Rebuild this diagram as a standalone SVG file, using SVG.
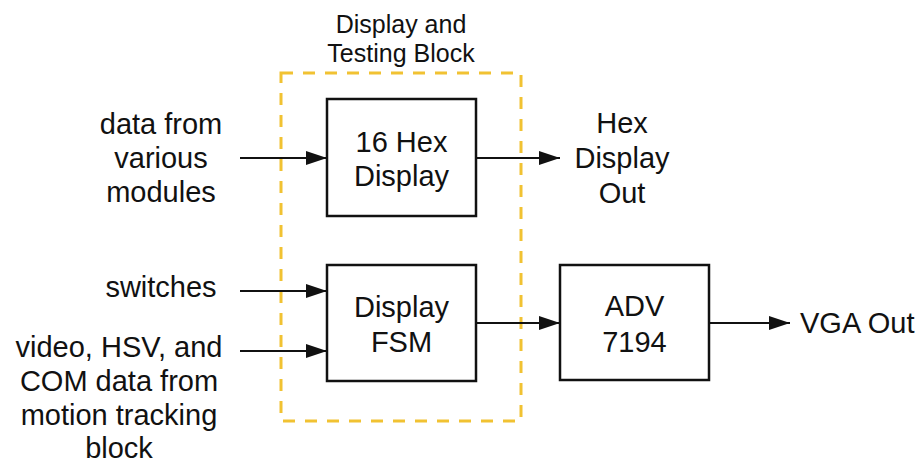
<svg xmlns="http://www.w3.org/2000/svg" width="924" height="463" viewBox="0 0 924 463">
  <style>
    .lbl { font-family: "Liberation Sans", Arial, sans-serif; font-size: 29px; fill: #111; text-anchor: middle; }
    .head { font-family: "Liberation Sans", Arial, sans-serif; font-size: 25px; fill: #111; text-anchor: middle; }
    .box { fill: #fff; stroke: #111; stroke-width: 2.5; }
    .wire { stroke: #111; stroke-width: 2.2; fill: none; marker-end: url(#arrow); }
    .group { fill: none; stroke: #f1c232; stroke-width: 3; stroke-dasharray: 12 10; }
  </style>
  <defs>
    <marker id="arrow" markerUnits="userSpaceOnUse" markerWidth="22" markerHeight="15" refX="21" refY="7" orient="auto">
      <path d="M0,0 L21,7 L0,14 z" fill="#111"/>
    </marker>
  </defs>
  <rect width="924" height="463" fill="#fff"/>

  <!-- Display and Testing Block boundary -->
  <g id="testing-block">
    <rect class="group" x="281" y="73" width="240" height="348"/>
    <text class="head" x="401" y="33">Display and</text>
    <text class="head" x="401" y="62">Testing Block</text>
  </g>

  <!-- Connectors -->
  <g id="connectors">
    <line class="wire" x1="240" y1="158" x2="327" y2="158"/>
    <line class="wire" x1="476" y1="158" x2="560" y2="158"/>
    <line class="wire" x1="240" y1="291" x2="327" y2="291"/>
    <line class="wire" x1="240" y1="351" x2="327" y2="351"/>
    <line class="wire" x1="476" y1="323" x2="560" y2="323"/>
    <line class="wire" x1="709" y1="323" x2="790" y2="323"/>
  </g>

  <!-- Blocks -->
  <g id="hex-display">
    <rect class="box" x="327" y="99" width="149" height="117"/>
    <text class="lbl" x="401.5" y="152">16 Hex</text>
    <text class="lbl" x="401.5" y="186">Display</text>
  </g>
  <g id="display-fsm">
    <rect class="box" x="327" y="265" width="149" height="116"/>
    <text class="lbl" x="401.5" y="317">Display</text>
    <text class="lbl" x="401.5" y="352">FSM</text>
  </g>
  <g id="adv7194">
    <rect class="box" x="560" y="265" width="149" height="115"/>
    <text class="lbl" x="634.5" y="316">ADV</text>
    <text class="lbl" x="634.5" y="352">7194</text>
  </g>

  <!-- Inputs and outputs -->
  <g id="data-in">
    <text class="lbl" x="161" y="134">data from</text>
    <text class="lbl" x="161" y="168">various</text>
    <text class="lbl" x="161" y="202">modules</text>
  </g>
  <g id="switches-in">
    <text class="lbl" x="161" y="297">switches</text>
  </g>
  <g id="video-in">
    <text class="lbl" x="119" y="357">video, HSV, and</text>
    <text class="lbl" x="119" y="391">COM data from</text>
    <text class="lbl" x="119" y="425">motion tracking</text>
    <text class="lbl" x="119" y="458">block</text>
  </g>
  <g id="hex-out">
    <text class="lbl" x="622" y="133">Hex</text>
    <text class="lbl" x="622" y="168">Display</text>
    <text class="lbl" x="622" y="203">Out</text>
  </g>
  <g id="vga-out">
    <text class="lbl" x="800" y="333" style="text-anchor:start">VGA Out</text>
  </g>
</svg>
